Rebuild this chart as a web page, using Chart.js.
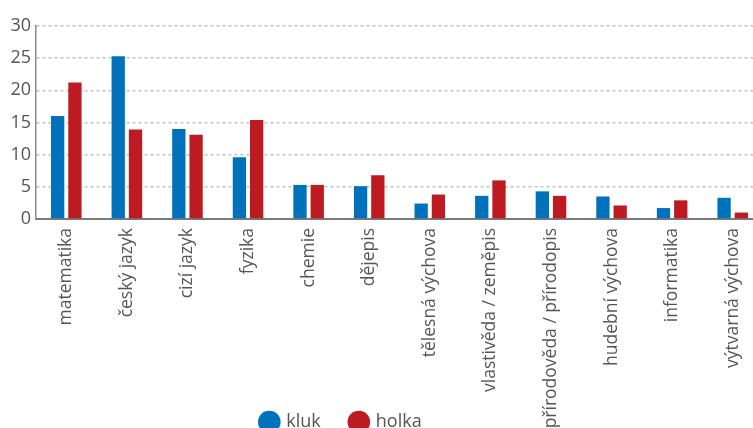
<!DOCTYPE html>
<html>
<head>
<meta charset="utf-8">
<script src="https://cdn.jsdelivr.net/npm/chart.js@4/dist/chart.umd.min.js"></script>
<style>
  html, body { margin: 0; padding: 0; background: #fff; overflow: hidden; }
  #wrap { width: 753px; height: 428px; overflow: hidden; position: relative; }
  canvas { position: absolute; left: 0; top: 0; }
</style>
</head>
<body>
<div id="wrap"><canvas id="chart" width="763" height="441"></canvas></div>
<script>
// subjects (x axis)
var subjects = [
  "matematika", "český jazyk", "cizí jazyk", "fyzika", "chemie", "dějepis",
  "tělesná výchova", "vlastivěda / zeměpis", "přírodověda / přírodopis",
  "hudební výchova", "informatika", "výtvarná výchova"
];
// series values
var klukValues  = [16.0, 25.3, 14.0, 9.6, 5.3, 5.1, 2.4, 3.6, 4.3, 3.5, 1.7, 3.3];
var holkaValues = [21.2, 13.9, 13.1, 15.4, 5.3, 6.8, 3.8, 6.0, 3.6, 2.1, 2.9, 1.0];
var seriesNames = ["kluk", "holka"];
var yTicks = [0, 5, 10, 15, 20, 25, 30];

var textColor = "#555555";
var fontFamily = "'Open Sans', sans-serif";

var ctx = document.getElementById("chart");

var myBarChart = new Chart(ctx, {
  type: 'bar',
  data: {
    labels: subjects,
    datasets: [
      {
        label: seriesNames[0],
        data: klukValues,
        backgroundColor: "#0071bb",
        borderWidth: 0,
        barPercentage: 0.77,
        categoryPercentage: 0.57
      },
      {
        label: seriesNames[1],
        data: holkaValues,
        backgroundColor: "#bd1a22",
        borderWidth: 0,
        barPercentage: 0.77,
        categoryPercentage: 0.57
      }
    ]
  },
  options: {
    responsive: false,
    animation: false,
    layout: { padding: { top: 26, left: 0, right: 0, bottom: 0 } },
    plugins: {
      tooltip: { enabled: false },
      legend: {
        position: 'bottom',
        labels: {
          usePointStyle: true,
          pointStyle: 'circle',
          boxWidth: 16,
          boxHeight: 16,
          padding: 30,
          color: textColor,
          font: { family: fontFamily, size: 18 }
        }
      }
    },
    scales: {
      x: {
        grid: { display: false, drawTicks: false },
        border: { display: true, color: "#7a7a7a", width: 2 },
        ticks: {
          color: textColor,
          font: { family: fontFamily, size: 17.5 },
          maxRotation: 90,
          minRotation: 90,
          padding: 9
        },
        afterFit: function(scale) {
          scale.height = 164;
          // long labels run past the axis box, like in the original
          scale._computeLabelArea = function() { return null; };
        }
      },
      y: {
        min: 0,
        max: 30,
        afterBuildTicks: function(scale) {
          scale.ticks = yTicks.map(function(v) { return { value: v }; });
        },
        grid: {
          color: "#c2c2c2",
          lineWidth: 1.5,
          drawTicks: false
        },
        border: { display: true, color: "#8a8a8a", width: 1.5, dash: [3, 3] },
        ticks: {
          color: textColor,
          font: { family: fontFamily, size: 18 },
          padding: 5
        },
        afterFit: function(scale) { scale.width = 36; }
      }
    }
  },
  plugins: [{
    // legend sits a bit left of centre in the original
    id: 'shiftLegend',
    afterLayout: function(chart) {
      chart.legend.left -= 40;
      chart.legend.right -= 40;
    }
  }]
});
</script>
</body>
</html>
